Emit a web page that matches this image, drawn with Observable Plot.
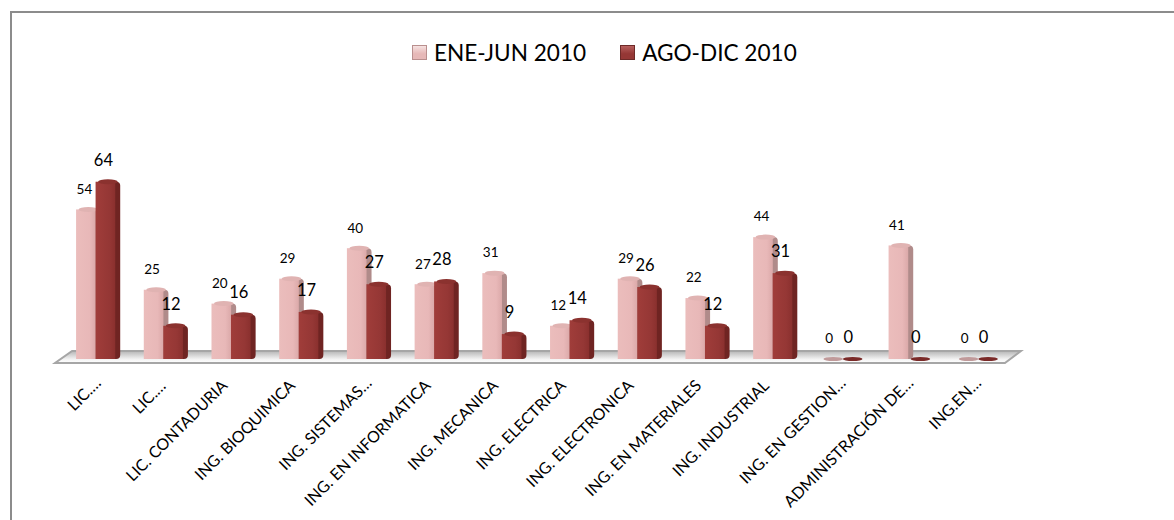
<!DOCTYPE html>
<html><head><meta charset="utf-8">
<script src="https://cdn.jsdelivr.net/npm/d3@7"></script>
<script src="https://cdn.jsdelivr.net/npm/@observablehq/plot@0.6"></script>
<style>
html,body{margin:0;padding:0;background:#fff;overflow:hidden;}
#frame{position:relative;box-sizing:border-box;margin:11px 0 0 10px;width:1164px;height:509px;border-top:2px solid #8c8c8c;border-left:2px solid #8c8c8c;overflow:hidden;}
#legend{height:79px;box-sizing:border-box;padding-top:26px;display:flex;justify-content:flex-start;font-family:Lato,sans-serif;font-size:22.6px;color:#000;line-height:28px;padding-left:400px;}
.sw{display:inline-block;width:15px;height:15px;margin:6px 7px 0 0;box-sizing:border-box;}
.it{display:flex;margin-right:34px;white-space:nowrap;}
svg{display:block;}
</style></head><body>
<div id="frame"><div id="legend"></div><div id="chart"></div></div>
<script>
const categories = ["LIC.…","LIC.… ","LIC. CONTADURIA","ING. BIOQUIMICA","ING. SISTEMAS…","ING. EN INFORMATICA","ING. MECANICA","ING. ELECTRICA","ING. ELECTRONICA","ING. EN MATERIALES","ING. INDUSTRIAL","ING. EN GESTION…","ADMINISTRACIÓN DE…","ING.EN…"];
const eneJun = [54,25,20,29,40,27,31,12,29,22,44,0,41,0];
const agoDic = [64,12,16,17,27,28,9,14,26,12,31,0,0,0];
const seriesNames = ["ENE-JUN 2010","AGO-DIC 2010"];
const pink = "#e6b8b7", dark = "#953735";

const rowsA = categories.map((c,i)=>({c,v:eneJun[i]}));
const rowsB = categories.map((c,i)=>({c,v:agoDic[i]}));
const truncated = categories.filter(c=>c.includes("…"));
const complete = categories.filter(c=>!c.includes("…"));

const legend = document.getElementById("legend");
seriesNames.forEach((n,i)=>{
  const col = i? dark : pink, edge = i? "#6d2a28":"#b98f8e";
  legend.insertAdjacentHTML("beforeend",`<span class="it"><span class="sw" style="background:linear-gradient(180deg,${i?"#b8605e":"#f6e2e1"},${col} 60%);border:1px solid ${edge}"></span>${n}</span>`);
});

const defs = () => {
  const s = d3.create("svg:defs");
  const g = (id,a,b,c,vert)=>{const l=s.append("linearGradient").attr("id",id);
    if(vert) l.attr("x2",0).attr("y2",1);
    l.append("stop").attr("offset","0").attr("stop-color",a);
    l.append("stop").attr("offset","0.7").attr("stop-color",b);
    l.append("stop").attr("offset","1").attr("stop-color",c);};
  g("pinkF","#ebbdbc","#e8b8b8","#dba9a9");
  g("darkF","#a03d3a","#953735","#8a302e");
  g("floorG","#b5b5b5","#f4f4f4","#ffffff",true);
  return s.node();
};

// floor plate, anchored to the chart's own scales
const floor = (index,{x,y},values,dims) => {
  const b0 = x(categories[0]), bN = x(categories[categories.length-1])+x.bandwidth();
  const y0 = y(0);
  const l = b0-32, r = bN+18;
  const pts = [[l,y0+4],[r,y0+4],[r+16,y0-8],[l+17,y0-8]];
  const n = d3.create("svg:g");
  n.append("polygon").attr("points",pts.join(" ")).attr("fill","url(#floorG)").attr("stroke","#a6a6a6").attr("stroke-width",2);
  return n.node();
};

const bars = (rows,off,front,side,cap,flat) => [
  Plot.barY(rows.filter(d=>d.v>0),{x:"c",y:"v",dx:off+5,fill:side,rx:4}),
  Plot.barY(rows.filter(d=>d.v>0),{x:"c",y:"v",dx:off,fill:`url(#${front})`}),
  Plot.barY(rows.filter(d=>d.v>0),{x:"c",y1:"v",y2:"v",dx:off+2.5,insetTop:-2.5,insetBottom:-2.5,rx:10,ry:2.5,fill:cap}),
  Plot.barY(rows.filter(d=>d.v===0),{x:"c",y1:"v",y2:"v",dx:off+2.5,insetTop:-2,insetBottom:-2,rx:10,ry:2,fill:flat})
];

const chart = Plot.plot({
  width:1162,height:428,marginLeft:27,marginRight:139,marginTop:0,marginBottom:161,
  style:{fontFamily:"Lato,sans-serif",background:"transparent"},
  x:{domain:categories,padding:0.71,align:0.5,round:false,axis:null},
  y:{domain:[0,100],range:[267,-10],axis:null},
  marks:[
    ()=>defs(),
    floor,
    ...bars(rowsA,-11,"pinkF","#b08b8a","#e0b3b2","#c09a9a"),
    ...bars(rowsB,8.5,"darkF","#6f2422","#8b322f","#7a2a28"),
    Plot.text(rowsA,{x:"c",y:"v",text:"v",dx:-13,dy:-20.5,fontSize:13.5,fill:"#000"}),
    Plot.text(rowsB,{x:"c",y:"v",text:"v",dx:6,dy:-22,fontSize:16.5,fill:"#000"}),
    Plot.axisX(complete,{anchor:"bottom",tickRotate:-45,tickSize:0,tickPadding:23.5,dx:-8,fontSize:16,label:null,fill:"#000"}),
    Plot.axisX(truncated,{anchor:"bottom",tickRotate:-45,tickSize:0,tickPadding:21,dx:1,fontSize:16,label:null,fill:"#000"})
  ]
});
document.getElementById("chart").append(chart);
</script></body></html>
